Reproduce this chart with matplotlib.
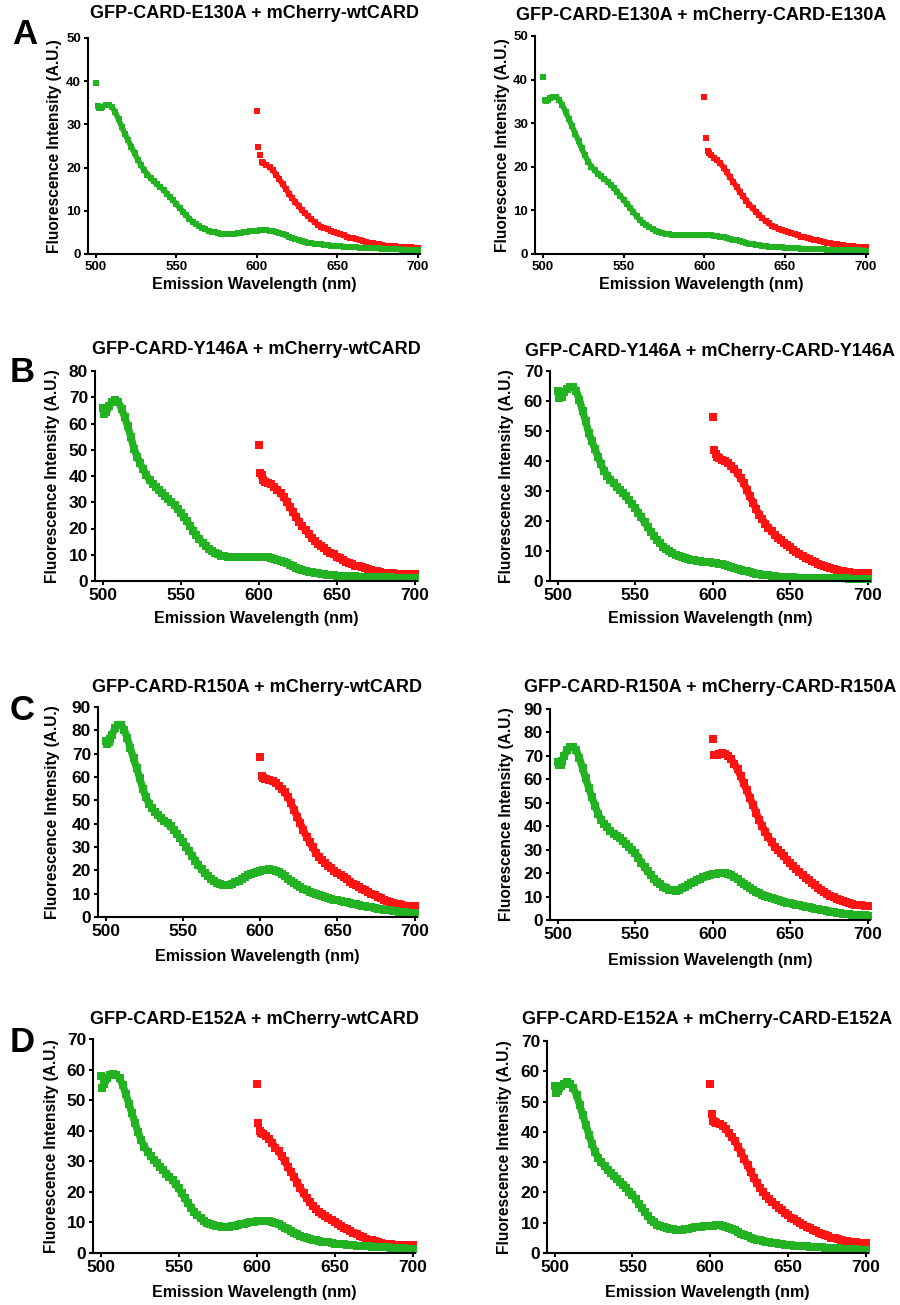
import matplotlib
matplotlib.use("Agg")
import matplotlib.pyplot as plt

plt.rcParams["font.family"] = ["Liberation Sans", "DejaVu Sans"]
plt.rcParams["font.weight"] = "bold"
plt.rcParams["axes.labelweight"] = "bold"

# Emission wavelengths (nm) of the recorded spectra
GREEN_NM = [500, 501, 502, 503] + list(range(504, 701, 2))
RED_NM = [600, 601, 602, 603] + list(range(604, 701, 2))

# ---- A: E130A ----
E130A_WT_GFP = [
    39.5, 34.2, 33.9, 33.9,
    34.1, 34.5, 34.6, 34.0, 32.8, 31.2, 29.4, 27.8, 26.3, 24.8,
    23.3, 21.8, 20.5, 19.4, 18.4, 17.5, 16.8, 16.1, 15.5, 14.8,
    14.0, 13.2, 12.4, 11.5, 10.7, 9.8, 9.0, 8.2, 7.5, 6.9,
    6.4, 6.0, 5.7, 5.4, 5.2, 5.0, 4.85, 4.7, 4.6, 4.6,
    4.6, 4.65, 4.75, 4.9, 5.0, 5.15, 5.25, 5.35, 5.4, 5.45,
    5.5, 5.5, 5.4, 5.3, 5.1, 4.9, 4.6, 4.3, 4.0, 3.75,
    3.5, 3.25, 3.0, 2.8, 2.65, 2.5, 2.4, 2.3, 2.2, 2.1,
    2.0, 1.95, 1.85, 1.8, 1.75, 1.7, 1.65, 1.6, 1.6, 1.55,
    1.5, 1.5, 1.45, 1.4, 1.35, 1.3, 1.3, 1.25, 1.2, 1.15,
    1.1, 1.1, 1.05, 1.0, 1.0, 0.95, 0.95, 0.9, 0.9,
]
E130A_WT_MCH = [
    33.0, 24.7, 22.9, 21.2,
    21.0, 20.6, 20.1, 19.4, 18.4, 17.3, 16.2, 15.1, 14.0, 12.9,
    12.0, 11.1, 10.2, 9.4, 8.7, 8.0, 7.4, 6.8, 6.3, 6.0,
    5.7, 5.4, 5.1, 4.8, 4.55, 4.3, 4.05, 3.8, 3.6, 3.4,
    3.2, 3.0, 2.85, 2.6, 2.45, 2.3, 2.2, 2.05, 1.9, 1.85,
    1.8, 1.75, 1.7, 1.65, 1.6, 1.55, 1.55, 1.5, 1.5,
]
E130A_MUT_GFP = [
    40.7, 35.3, 35.0, 35.3,
    35.7, 36.0, 36.0, 35.4, 34.1, 32.6, 30.9, 29.3, 27.6, 25.9,
    24.2, 22.6, 21.2, 20.0, 19.2, 18.4, 17.8, 17.2, 16.6, 15.9,
    15.1, 14.2, 13.3, 12.4, 11.5, 10.6, 9.6, 8.7, 7.8, 7.1,
    6.6, 6.1, 5.7, 5.3, 5.0, 4.8, 4.65, 4.5, 4.4, 4.4,
    4.4, 4.4, 4.4, 4.4, 4.4, 4.4, 4.4, 4.4, 4.4, 4.35,
    4.3, 4.2, 4.1, 4.0, 3.8, 3.6, 3.4, 3.25, 3.1, 2.9,
    2.7, 2.55, 2.4, 2.2, 2.1, 2.0, 1.9, 1.8, 1.7, 1.65,
    1.6, 1.55, 1.5, 1.45, 1.4, 1.38, 1.35, 1.3, 1.25, 1.22,
    1.2, 1.15, 1.12, 1.1, 1.08, 1.05, 1.02, 1.0, 1.0, 0.97,
    0.95, 0.93, 0.9, 0.9, 0.88, 0.85, 0.83, 0.8, 0.8,
]
E130A_MUT_MCH = [
    36.0, 26.5, 23.7, 23.2,
    22.8, 22.1, 21.5, 20.8, 19.8, 18.7, 17.6, 16.5, 15.4, 14.3,
    13.2, 12.2, 11.3, 10.5, 9.7, 8.9, 8.2, 7.6, 7.0, 6.5,
    6.1, 5.8, 5.55, 5.3, 5.0, 4.75, 4.5, 4.25, 4.0, 3.8,
    3.6, 3.4, 3.25, 3.1, 2.9, 2.75, 2.6, 2.45, 2.3, 2.2,
    2.1, 2.0, 1.9, 1.8, 1.75, 1.7, 1.6, 1.55, 1.5,
]

# ---- B: Y146A ----
Y146A_WT_GFP = [
    66.0, 63.8, 64.5, 66.0,
    66.8, 68.2, 68.8, 68.2, 65.7, 62.4, 58.9, 54.9, 50.4, 47.4,
    44.8, 42.5, 40.3, 38.4, 37.0, 35.8, 34.6, 33.5, 32.3, 31.2,
    30.1, 28.9, 27.5, 26.0, 24.4, 22.8, 21.0, 19.2, 17.5, 16.0,
    14.6, 13.3, 12.3, 11.4, 10.7, 10.1, 9.7, 9.4, 9.2, 9.15,
    9.1, 9.1, 9.1, 9.1, 9.1, 9.15, 9.2, 9.2, 9.2, 9.2,
    9.15, 9.05, 8.9, 8.5, 8.1, 7.7, 7.3, 6.7, 6.1, 5.6,
    5.1, 4.6, 4.2, 3.8, 3.5, 3.3, 3.1, 2.95, 2.7, 2.55,
    2.45, 2.35, 2.2, 2.0, 1.95, 1.9, 1.85, 1.8, 1.8, 1.75,
    1.7, 1.7, 1.65, 1.6, 1.55, 1.5, 1.5, 1.45, 1.4, 1.4,
    1.35, 1.3, 1.3, 1.25, 1.2, 1.2, 1.15, 1.1, 1.1,
]
Y146A_WT_MCH = [
    51.7, 41.3, 40.5, 38.5,
    37.6, 37.2, 36.8, 35.9, 34.8, 33.5, 32.0, 30.2, 28.3, 26.3,
    24.2, 22.4, 20.8, 19.4, 17.9, 16.5, 15.2, 14.2, 13.3, 12.4,
    11.6, 10.8, 10.1, 9.3, 8.7, 8.0, 7.4, 6.8, 6.3, 5.9,
    5.6, 5.2, 4.8, 4.4, 4.2, 3.9, 3.7, 3.5, 3.2, 3.1,
    3.0, 2.9, 2.8, 2.7, 2.7, 2.7, 2.7, 2.7, 2.7,
]
Y146A_MUT_GFP = [
    63.2, 61.0, 62.5, 61.5,
    63.0, 64.0, 64.8, 64.8, 63.3, 60.5, 56.6, 53.3, 49.4, 46.6,
    44.0, 41.4, 38.9, 36.6, 35.1, 33.8, 32.6, 31.5, 30.4, 29.3,
    28.2, 27.0, 25.7, 24.3, 22.8, 21.2, 19.6, 18.1, 16.5, 15.1,
    13.8, 12.6, 11.5, 10.6, 9.9, 9.2, 8.7, 8.3, 7.9, 7.6,
    7.35, 7.1, 6.95, 6.8, 6.65, 6.5, 6.35, 6.2, 6.1, 5.95,
    5.8, 5.6, 5.3, 5.0, 4.7, 4.4, 4.05, 3.8, 3.5, 3.2,
    2.95, 2.7, 2.45, 2.2, 2.05, 1.95, 1.85, 1.75, 1.6, 1.5,
    1.45, 1.35, 1.3, 1.2, 1.2, 1.15, 1.15, 1.1, 1.1, 1.05,
    1.05, 1.0, 1.0, 1.0, 0.95, 0.95, 0.9, 0.9, 0.9, 0.85,
    0.85, 0.85, 0.8, 0.8, 0.8, 0.75, 0.75, 0.7, 0.7,
]
Y146A_MUT_MCH = [
    54.7, 43.8, 42.5, 41.5,
    41.0, 40.5, 40.0, 39.4, 38.3, 37.3, 35.9, 34.3, 32.7, 30.5,
    28.2, 26.1, 24.0, 22.1, 20.6, 19.1, 17.8, 16.6, 15.4, 14.5,
    13.6, 12.8, 12.0, 11.3, 10.5, 9.7, 8.9, 8.2, 7.6, 7.2,
    6.7, 6.3, 5.8, 5.4, 5.0, 4.7, 4.3, 4.0, 3.7, 3.5,
    3.3, 3.1, 2.95, 2.8, 2.75, 2.7, 2.65, 2.6, 2.6,
]

# ---- C: R150A ----
R150A_WT_GFP = [
    75.5, 74.0, 75.0, 76.5,
    78.0, 80.8, 82.5, 82.5, 80.2, 76.6, 72.3, 68.0, 63.8, 59.5,
    55.0, 51.5, 48.4, 46.6, 45.0, 43.7, 42.5, 41.3, 40.1, 38.8,
    37.3, 35.7, 34.0, 32.2, 30.2, 28.2, 26.2, 24.2, 22.2, 20.5,
    19.0, 17.6, 16.4, 15.3, 14.5, 14.0, 13.7, 13.6, 13.9, 14.3,
    14.9, 15.6, 16.3, 17.2, 17.8, 18.4, 18.9, 19.4, 19.8, 20.1,
    20.3, 20.4, 20.3, 19.8, 19.2, 18.4, 17.5, 16.5, 15.5, 14.6,
    13.7, 12.9, 12.2, 11.5, 10.9, 10.3, 9.8, 9.3, 8.9, 8.5,
    8.2, 7.9, 7.5, 7.2, 6.9, 6.6, 6.3, 6.0, 5.7, 5.4,
    5.1, 4.9, 4.6, 4.3, 4.1, 3.9, 3.6, 3.4, 3.2, 3.0,
    2.8, 2.6, 2.45, 2.3, 2.15, 2.0, 1.9, 1.8, 1.7,
]
R150A_WT_MCH = [
    68.7, 60.5, 59.5, 59.2,
    59.1, 58.9, 58.3, 57.3, 56.3, 55.0, 53.4, 51.5, 48.7, 45.8,
    42.9, 40.1, 37.2, 34.4, 32.1, 29.8, 27.6, 25.9, 24.4, 23.2,
    22.0, 21.0, 19.9, 18.9, 17.9, 17.0, 16.1, 15.2, 14.3, 13.6,
    12.9, 12.2, 11.4, 10.7, 10.0, 9.3, 8.7, 8.0, 7.4, 6.9,
    6.5, 6.1, 5.7, 5.4, 5.1, 4.9, 4.8, 4.7, 4.6,
]
R150A_MUT_GFP = [
    67.2, 66.0, 66.3, 68.0,
    69.8, 72.4, 73.8, 73.8, 72.4, 69.1, 64.8, 60.5, 56.3, 52.4,
    48.8, 45.4, 42.7, 41.0, 39.5, 38.0, 36.8, 35.8, 34.8, 33.7,
    32.6, 31.3, 30.0, 28.5, 26.5, 24.5, 22.5, 20.8, 19.2, 17.7,
    16.4, 15.2, 14.2, 13.5, 13.0, 12.6, 12.5, 12.8, 13.5, 14.2,
    14.8, 15.6, 16.4, 17.1, 17.7, 18.3, 18.7, 19.1, 19.5, 19.8,
    20.1, 20.2, 20.2, 19.6, 19.0, 18.3, 17.4, 16.4, 15.4, 14.4,
    13.5, 12.8, 12.1, 11.4, 10.8, 10.3, 9.8, 9.3, 8.8, 8.5,
    8.1, 7.8, 7.4, 7.1, 6.8, 6.5, 6.2, 5.9, 5.7, 5.4,
    5.1, 4.8, 4.6, 4.3, 4.1, 3.8, 3.6, 3.3, 3.1, 2.9,
    2.75, 2.6, 2.45, 2.3, 2.2, 2.1, 2.0, 1.95, 1.9,
]
R150A_MUT_MCH = [
    77.2, 70.5, 70.3, 70.5,
    70.8, 71.1, 71.0, 69.8, 68.5, 66.7, 64.2, 61.5, 58.4, 55.3,
    52.2, 49.0, 45.8, 42.7, 40.0, 37.4, 35.2, 33.2, 31.3, 29.9,
    28.5, 27.1, 25.7, 24.2, 23.0, 21.7, 20.5, 19.3, 18.1, 17.0,
    15.9, 14.9, 13.8, 12.8, 11.9, 11.1, 10.3, 9.6, 8.8, 8.4,
    8.0, 7.6, 7.2, 6.8, 6.6, 6.4, 6.2, 6.1, 6.0,
]

# ---- D: E152A ----
E152A_WT_GFP = [
    58.0, 53.9, 55.3, 56.6,
    57.4, 58.2, 58.6, 58.3, 57.2, 55.0, 52.1, 48.8, 45.7, 42.4,
    39.5, 36.8, 34.8, 33.1, 31.8, 30.5, 29.4, 28.2, 27.1, 26.0,
    25.0, 23.8, 22.5, 21.1, 19.5, 17.9, 16.3, 14.8, 13.5, 12.3,
    11.3, 10.5, 9.9, 9.4, 9.1, 8.9, 8.7, 8.6, 8.5, 8.55,
    8.7, 8.9, 9.1, 9.4, 9.6, 9.85, 10.05, 10.25, 10.4, 10.45,
    10.5, 10.5, 10.4, 10.1, 9.8, 9.4, 8.9, 8.3, 7.7, 7.1,
    6.6, 6.1, 5.7, 5.3, 5.0, 4.7, 4.4, 4.2, 3.9, 3.75,
    3.6, 3.45, 3.3, 3.1, 3.0, 2.9, 2.8, 2.7, 2.6, 2.5,
    2.45, 2.35, 2.3, 2.2, 2.15, 2.1, 2.0, 1.95, 1.9, 1.85,
    1.8, 1.75, 1.65, 1.6, 1.55, 1.5, 1.4, 1.35, 1.3,
]
E152A_WT_MCH = [
    55.2, 42.4, 40.0, 39.1,
    38.8, 38.2, 37.4, 35.9, 34.5, 33.3, 31.8, 30.0, 28.2, 26.5,
    24.8, 23.0, 21.2, 19.5, 18.0, 16.7, 15.4, 14.4, 13.5, 12.8,
    12.1, 11.5, 10.7, 10.0, 9.4, 8.8, 8.2, 7.7, 7.1, 6.6,
    6.1, 5.6, 5.1, 4.7, 4.4, 4.1, 3.8, 3.5, 3.3, 3.1,
    2.95, 2.8, 2.7, 2.6, 2.6, 2.6, 2.6, 2.7, 2.7,
]
E152A_MUT_GFP = [
    55.3, 52.8, 53.6, 54.6,
    55.2, 55.9, 56.3, 55.8, 54.4, 52.2, 48.9, 45.6, 42.3, 39.0,
    36.0, 33.3, 31.3, 29.9, 28.7, 27.5, 26.4, 25.4, 24.4, 23.5,
    22.5, 21.4, 20.3, 19.2, 17.8, 16.3, 14.9, 13.5, 12.1, 11.0,
    10.1, 9.4, 8.9, 8.6, 8.3, 8.0, 7.85, 7.75, 7.7, 7.75,
    7.85, 8.0, 8.2, 8.5, 8.6, 8.75, 8.85, 8.95, 9.0, 9.05,
    9.1, 9.1, 8.95, 8.7, 8.4, 8.0, 7.5, 6.95, 6.4, 5.95,
    5.5, 5.1, 4.75, 4.4, 4.15, 3.9, 3.7, 3.5, 3.3, 3.15,
    3.0, 2.9, 2.75, 2.6, 2.5, 2.45, 2.4, 2.3, 2.2, 2.15,
    2.1, 2.05, 2.0, 1.9, 1.85, 1.75, 1.7, 1.6, 1.5, 1.5,
    1.45, 1.4, 1.35, 1.3, 1.25, 1.2, 1.15, 1.1, 1.1,
]
E152A_MUT_MCH = [
    55.8, 45.8, 43.6, 43.3,
    43.0, 42.6, 42.0, 40.8, 39.6, 38.3, 36.9, 35.0, 33.0, 31.0,
    28.9, 26.9, 24.9, 23.1, 21.6, 20.1, 18.9, 17.8, 16.8, 15.9,
    15.0, 14.2, 13.3, 12.4, 11.7, 11.1, 10.5, 9.9, 9.3, 8.7,
    8.2, 7.6, 7.1, 6.6, 6.2, 5.8, 5.5, 5.1, 4.8, 4.6,
    4.3, 4.1, 3.9, 3.7, 3.6, 3.5, 3.4, 3.35, 3.3,
]

TITLES = [
    "GFP-CARD-E130A + mCherry-wtCARD", "GFP-CARD-E130A + mCherry-CARD-E130A",
    "GFP-CARD-Y146A + mCherry-wtCARD", "GFP-CARD-Y146A + mCherry-CARD-Y146A",
    "GFP-CARD-R150A + mCherry-wtCARD", "GFP-CARD-R150A + mCherry-CARD-R150A",
    "GFP-CARD-E152A + mCherry-wtCARD", "GFP-CARD-E152A + mCherry-CARD-E152A",
]
Y_MAX = [50, 50, 80, 70, 90, 90, 70, 70]
GFP_SERIES = [E130A_WT_GFP, E130A_MUT_GFP, Y146A_WT_GFP, Y146A_MUT_GFP,
              R150A_WT_GFP, R150A_MUT_GFP, E152A_WT_GFP, E152A_MUT_GFP]
MCH_SERIES = [E130A_WT_MCH, E130A_MUT_MCH, Y146A_WT_MCH, Y146A_MUT_MCH,
              R150A_WT_MCH, R150A_MUT_MCH, E152A_WT_MCH, E152A_MUT_MCH]
ROW_LETTERS = ["A", "B", "C", "D"]

GREEN = "#22b222"
RED = "#ff1414"

W, H = 900, 1305
fig = plt.figure(figsize=(W / 100, H / 100), dpi=100)

# axes boxes in pixels: left, right, top, bottom
BOXES = [
    (88, 420, 38, 254), (535, 868, 36, 254),
    (95, 417, 371, 581), (550, 870, 371, 581),
    (98, 417, 707, 917), (550, 870, 709, 920),
    (93, 415, 1039, 1253), (547, 868, 1041, 1253),
]
YLABEL_OFF = [33, 32, 42, 43, 45, 43, 41, 42]
XLABEL_OFF = [31, 31, 37, 37, 40, 40, 39, 39]
TITLE_OFF = [25, 21, 21, 19, 20, 21, 19, 21]
LETTER_POS = [(25, 34), (22, 372), (22, 710), (22, 1043)]


def draw_spectrum(ax, nm, vals, color, size, first_joined):
    # dense square markers; the points after the initial spikes merge into a band
    ax.plot(nm[first_joined:], vals[first_joined:], "-", color=color,
            lw=size * 0.95, solid_capstyle="butt", solid_joinstyle="round",
            clip_on=False)
    ax.plot(nm, vals, "s", color=color, ms=size, mew=0, clip_on=False)


for i in range(8):
    l, r, t, b = BOXES[i]
    ax = fig.add_axes([l / W, 1 - b / H, (r - l) / W, (b - t) / H])
    small = i < 2
    ms = 4.2 if small else 5.6
    tick_fs = 9.5 if small else 12.5

    draw_spectrum(ax, RED_NM, MCH_SERIES[i], RED, ms, 3)
    draw_spectrum(ax, GREEN_NM, GFP_SERIES[i], GREEN, ms, 1)

    ax.set_xlim(495, 701.5)
    ax.set_ylim(0, Y_MAX[i])
    ax.set_xticks([500, 550, 600, 650, 700])
    ax.set_yticks(range(0, Y_MAX[i] + 1, 10))
    for side in ("top", "right"):
        ax.spines[side].set_visible(False)
    for side in ("left", "bottom"):
        ax.spines[side].set_linewidth(1.5)
        ax.spines[side].set_zorder(5)
    ax.tick_params(direction="out", length=3, width=1.5, labelsize=tick_fs, pad=2)
    for lab in ax.get_xticklabels() + ax.get_yticklabels():
        lab.set_fontweight("bold")

    ax.set_xlabel("Emission Wavelength (nm)", fontsize=11.5, fontweight="bold")
    ax.set_ylabel("Fluorescence Intensity (A.U.)", fontsize=11.2, fontweight="bold")
    ax.xaxis.label.set_va("center")
    ax.yaxis.label.set_va("center")
    ax.xaxis.set_label_coords(0.5, -XLABEL_OFF[i] / (b - t))
    ax.yaxis.set_label_coords(-YLABEL_OFF[i] / (r - l), 0.5)

    ax.text(0.5, 1 + TITLE_OFF[i] / (b - t), TITLES[i], transform=ax.transAxes,
            ha="center", va="center", fontsize=13, fontweight="bold")

for letter, (x, y) in zip(ROW_LETTERS, LETTER_POS):
    fig.text(x / W, 1 - y / H, letter, ha="center", va="center",
             fontsize=25, fontweight="bold")

fig.savefig("out.png", dpi=100)
